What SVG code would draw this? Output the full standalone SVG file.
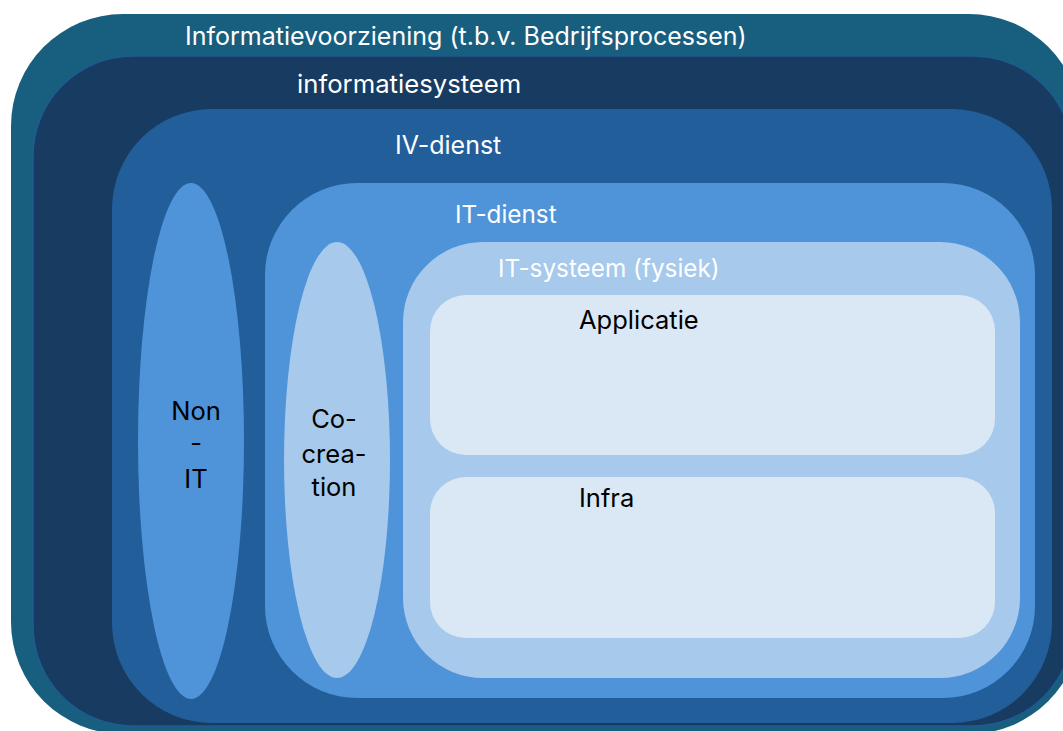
<svg xmlns="http://www.w3.org/2000/svg" width="1063" height="731" viewBox="0 0 1063 731">
<style>
.w{fill:#ffffff;font-family:"Inter","Liberation Sans",sans-serif;font-size:25px;text-anchor:start}
.b{fill:#000000;font-family:"Inter","Liberation Sans",sans-serif;font-size:25.5px}
.c{text-anchor:middle}
</style>
<rect width="1063" height="731" fill="#ffffff"/>
<g id="informatievoorziening">
<rect x="11" y="14" width="1070" height="720" rx="112" ry="112" fill="#175E7F"/>
<text class="w" x="185" y="45">Informatievoorziening (t.b.v. Bedrijfsprocessen)</text>
</g>
<g id="informatiesysteem">
<rect x="33" y="56" width="1040" height="670" rx="100" ry="100" fill="#183B61" stroke="#1F5B91" stroke-width="1.5"/>
<text class="w" x="297" y="93" style="font-size:25.7px">informatiesysteem</text>
</g>
<g id="iv-dienst">
<rect x="112" y="109" width="940" height="614" rx="100" ry="100" fill="#215E9A"/>
<text class="w" x="395" y="154">IV-dienst</text>
</g>
<g id="non-it">
<ellipse cx="191" cy="441" rx="53" ry="258" fill="#4F94D8"/>
<text class="b c" x="196" y="420">Non</text>
<text class="b c" x="196" y="452">-</text>
<text class="b c" x="196" y="488">IT</text>
</g>
<g id="it-dienst">
<rect x="265" y="183" width="770" height="515" rx="92" ry="92" fill="#4F94D8"/>
<text class="w" x="455" y="223" style="font-size:24.3px">IT-dienst</text>
</g>
<g id="co-creation">
<ellipse cx="337" cy="460" rx="53" ry="218" fill="#A6C9EC"/>
<text class="b c" x="334" y="428">Co-</text>
<text class="b c" x="334" y="463">crea-</text>
<text class="b c" x="334" y="496">tion</text>
</g>
<g id="it-systeem">
<rect x="403" y="242" width="617" height="436" rx="80" ry="80" fill="#A6C9EC"/>
<text class="w" x="498" y="277" style="font-size:24.3px">IT-systeem (fysiek)</text>
</g>
<g id="applicatie">
<rect x="430" y="295" width="565" height="160" rx="36" ry="36" fill="#DAE8F5"/>
<text class="b" x="579" y="329">Applicatie</text>
</g>
<g id="infra">
<rect x="430" y="477" width="565" height="161" rx="36" ry="36" fill="#DAE8F5"/>
<text class="b" x="579" y="507">Infra</text>
</g>
<g id="connectors"/>
</svg>
